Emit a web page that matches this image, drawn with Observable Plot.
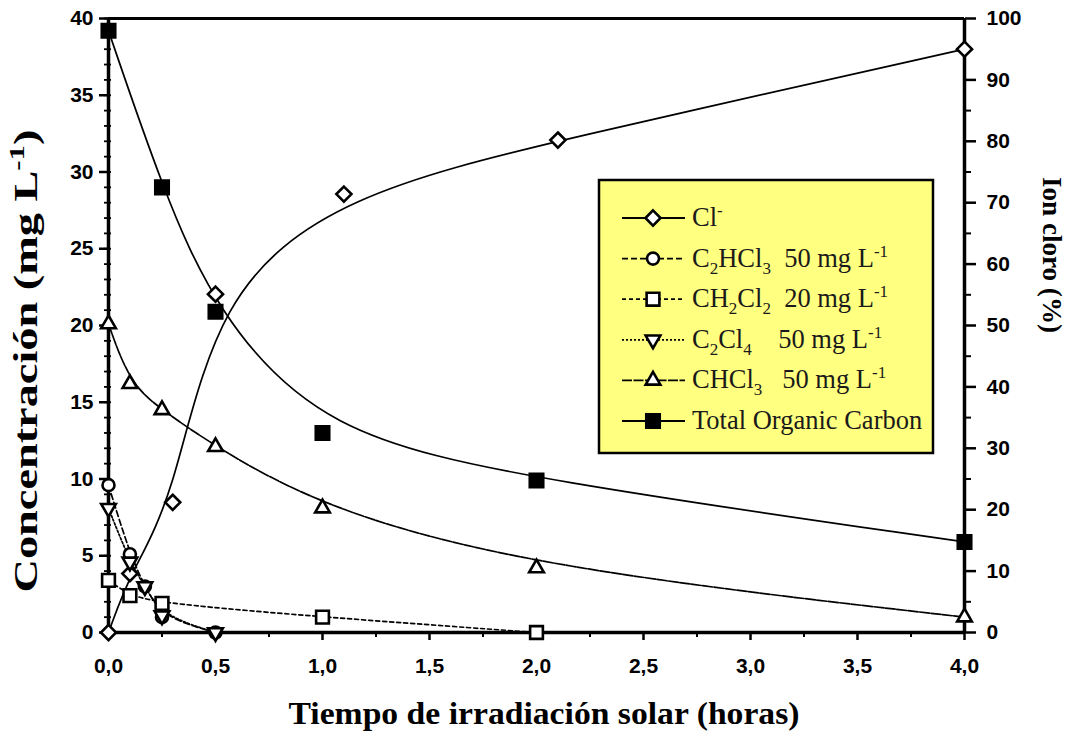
<!DOCTYPE html>
<html><head><meta charset="utf-8">
<script src="https://cdn.jsdelivr.net/npm/d3@7"></script>
<script src="https://cdn.jsdelivr.net/npm/@observablehq/plot@0.6"></script>
<style>
body{margin:0;background:#fff}
#chart{position:relative;width:1077px;height:736px}
</style>
</head><body><div id="chart"></div>
<script>
// ---- data (time in hours) ----
const tCl = [0, 0.1, 0.3, 0.5, 1.1, 2.1, 4.0];
const clPct = [0, 9.6, 21.2, 55.1, 71.4, 80.2, 95.0];        // Ion cloro (%), right axis
const tTOC = [0, 0.25, 0.5, 1, 2, 4];
const toc = [39.2, 29.0, 20.9, 13.0, 9.9, 5.9];
const tCHCl3 = [0, 0.1, 0.25, 0.5, 1, 2, 4];
const chcl3 = [20.1, 16.2, 14.5, 12.1, 8.1, 4.2, 1.0];
const tC2HCl3 = [0, 0.1, 0.17, 0.25, 0.5];
const c2hcl3 = [9.6, 5.1, 3.0, 1.0, 0];
const tC2Cl4 = [0, 0.1, 0.17, 0.25, 0.5];
const c2cl4 = [8.1, 4.6, 3.0, 1.1, 0];
const tCH2Cl2 = [0, 0.1, 0.25, 1, 2];
const ch2cl2 = [3.4, 2.4, 1.9, 1.0, 0];

const xMajor = [0, 0.5, 1, 1.5, 2, 2.5, 3, 3.5, 4];
const xMinor = [0.25, 0.75, 1.25, 1.75, 2.25, 2.75, 3.25, 3.75];
const yMajor = [0, 5, 10, 15, 20, 25, 30, 35, 40];
const yMinor = d3.range(0, 41, 1);
const rMajor = [0, 10, 20, 30, 40, 50, 60, 70, 80, 90, 100];
const rMinor = [5, 15, 25, 35, 45, 55, 65, 75, 85, 95];
const pctPerUnit = 2.5; // 100 % on the right == 40 mg/L on the left

const rows = (ts, vs) => ts.map((t, i) => ({t, v: vs[i]}));
const dCl = rows(tCl, clPct.map(p => p / pctPerUnit));
const dTOC = rows(tTOC, toc);
const dCHCl3 = rows(tCHCl3, chcl3);
const dC2HCl3 = rows(tC2HCl3, c2hcl3);
const dC2Cl4 = rows(tC2Cl4, c2cl4);
const dCH2Cl2 = rows(tCH2Cl2, ch2cl2);

const series = [
  {data: dCl, dash: null, sym: "diamond2", r: 6.8, fill: "white", rot: 0},
  {data: dC2HCl3, dash: "6,3", sym: "circle", r: 6, fill: "white", rot: 0},
  {data: dCH2Cl2, dash: "4,3", sym: "square", r: 7.2, fill: "white", rot: 0},
  {data: dC2Cl4, dash: "2,2", sym: "triangle2", r: 7, fill: "white", rot: 180},
  {data: dCHCl3, dash: "10,1.5", sym: "triangle2", r: 7, fill: "white", rot: 0},
  {data: dTOC, dash: null, sym: "square", r: 7.6, fill: "black", rot: 0}
];

const fmtX = d => d.toFixed(1).replace(".", ",");
const blank = () => "";

const marks = [
  Plot.axisX(xMajor, {tickSize: 8, strokeWidth: 2.5, tickPadding: 18, tickFormat: fmtX, label: null}),
  Plot.axisX(xMinor, {tickSize: 5, strokeWidth: 2, tickFormat: blank, label: null}),
  Plot.axisY(yMajor, {anchor: "left", tickSize: 9, strokeWidth: 2.5, tickPadding: 6, label: null}),
  Plot.axisY(yMinor, {anchor: "left", tickSize: 4, strokeWidth: 1.8, tickFormat: blank, label: null}),
  Plot.axisY(yMinor, {anchor: "left", tickSize: -3, strokeWidth: 1.8, tickFormat: blank, label: null}),
  Plot.axisY(rMajor.map(p => p / pctPerUnit), {anchor: "right", tickSize: 11, strokeWidth: 2.5, tickPadding: 11,
    tickFormat: d => String(Math.round(d * pctPerUnit)), label: null}),
  Plot.axisY(rMinor.map(p => p / pctPerUnit), {anchor: "right", tickSize: 6, strokeWidth: 2, tickFormat: blank, label: null}),
  Plot.ruleX([0, 4], {strokeWidth: 3.5}),
  Plot.ruleY([0], {strokeWidth: 3.5}),
  Plot.ruleY([40], {strokeWidth: 3})
];
for (const s of series) {
  marks.push(Plot.line(s.data, {x: "t", y: "v", curve: "basis", stroke: "black", strokeWidth: 1.7,
    strokeDasharray: s.dash}));
}
for (const s of series) {
  marks.push(Plot.dot(s.data, {x: "t", y: "v", symbol: s.sym, r: s.r, fill: s.fill, stroke: "black",
    strokeWidth: 2.6, rotate: s.rot}));
}

const plot = Plot.plot({
  width: 1077, height: 736,
  marginLeft: 108, marginRight: 113, marginTop: 18, marginBottom: 104,
  x: {domain: [0, 4]},
  y: {domain: [0, 40]},
  style: {fontFamily: "'Liberation Sans', Arial, sans-serif", fontSize: "21px", fontWeight: "bold",
    color: "#000", background: "#fff", overflow: "visible"},
  marks
});
document.getElementById("chart").appendChild(plot);

// ---- titles ----
const svg = d3.select(plot);
const serif = "'Liberation Serif', 'Times New Roman', serif";

svg.append("text")
  .attr("x", 544).attr("y", 724).attr("text-anchor", "middle")
  .attr("font-family", serif).attr("font-weight", "bold").attr("font-size", 32)
  .attr("textLength", 511).attr("lengthAdjust", "spacingAndGlyphs").attr("fill", "#000")
  .text("Tiempo de irradiación solar (horas)");

const yl = svg.append("text")
  .attr("transform", "translate(37,361) rotate(-90)").attr("text-anchor", "middle")
  .attr("font-family", serif).attr("font-weight", "bold").attr("font-size", 33)
  .attr("textLength", 463).attr("lengthAdjust", "spacingAndGlyphs").attr("fill", "#000");
yl.append("tspan").text("Concentración (mg L");
yl.append("tspan").attr("dy", -13).attr("font-size", 22).text("-1");
yl.append("tspan").attr("dy", 13).text(")");

svg.append("text")
  .attr("transform", "translate(1043,255) rotate(90)").attr("text-anchor", "middle")
  .attr("font-family", serif).attr("font-weight", "bold").attr("font-size", 27)
  .attr("textLength", 156).attr("lengthAdjust", "spacingAndGlyphs").attr("fill", "#000")
  .text("Ion cloro (%)");

// ---- legend ----
const lg = svg.append("g");
lg.append("rect").attr("x", 599).attr("y", 180).attr("width", 334).attr("height", 273)
  .attr("fill", "#ffff80").attr("stroke", "#000").attr("stroke-width", 2.5);

const legendLabels = [
  [["Cl", 0], ["-", -1]],
  [["C", 0], ["2", 1], ["HCl", 0], ["3", 1], ["  50 mg L", 0], ["-1", -1]],
  [["CH", 0], ["2", 1], ["Cl", 0], ["2", 1], ["  20 mg L", 0], ["-1", -1]],
  [["C", 0], ["2", 1], ["Cl", 0], ["4", 1], ["    50 mg L", 0], ["-1", -1]],
  [["CHCl", 0], ["3", 1], ["   50 mg L", 0], ["-1", -1]],
  [["Total Organic Carbon", 0]]
];
const symMap = {diamond2: d3.symbolDiamond2, circle: d3.symbolCircle, square: d3.symbolSquare, triangle2: d3.symbolTriangle2};
series.forEach((s, i) => {
  const cy = 218 + i * 40.6;
  lg.append("line").attr("x1", 622).attr("x2", 685).attr("y1", cy).attr("y2", cy)
    .attr("stroke", "#000").attr("stroke-width", 1.8).attr("stroke-dasharray", s.dash);
  lg.append("path")
    .attr("d", d3.symbol(symMap[s.sym], Math.PI * s.r * s.r)())
    .attr("transform", `translate(653,${cy}) rotate(${s.rot})`)
    .attr("fill", s.fill).attr("stroke", "#000").attr("stroke-width", 2.6);
  const t = lg.append("text").attr("x", 692).attr("y", cy + 8)
    .attr("text-anchor", "start").attr("font-weight", "normal")
    .attr("font-family", serif).attr("font-size", 26.5).attr("fill", "#1a1a1a")
    .style("white-space", "pre");
  let shift = 0;
  for (const [txt, kind] of legendLabels[i]) {
    const ts = t.append("tspan").text(txt);
    const target = kind === 1 ? 7 : kind === -1 ? -10 : 0;
    ts.attr("dy", target - shift);
    shift = target;
    if (kind !== 0) ts.attr("font-size", 17);
  }
});
</script>
</body></html>
